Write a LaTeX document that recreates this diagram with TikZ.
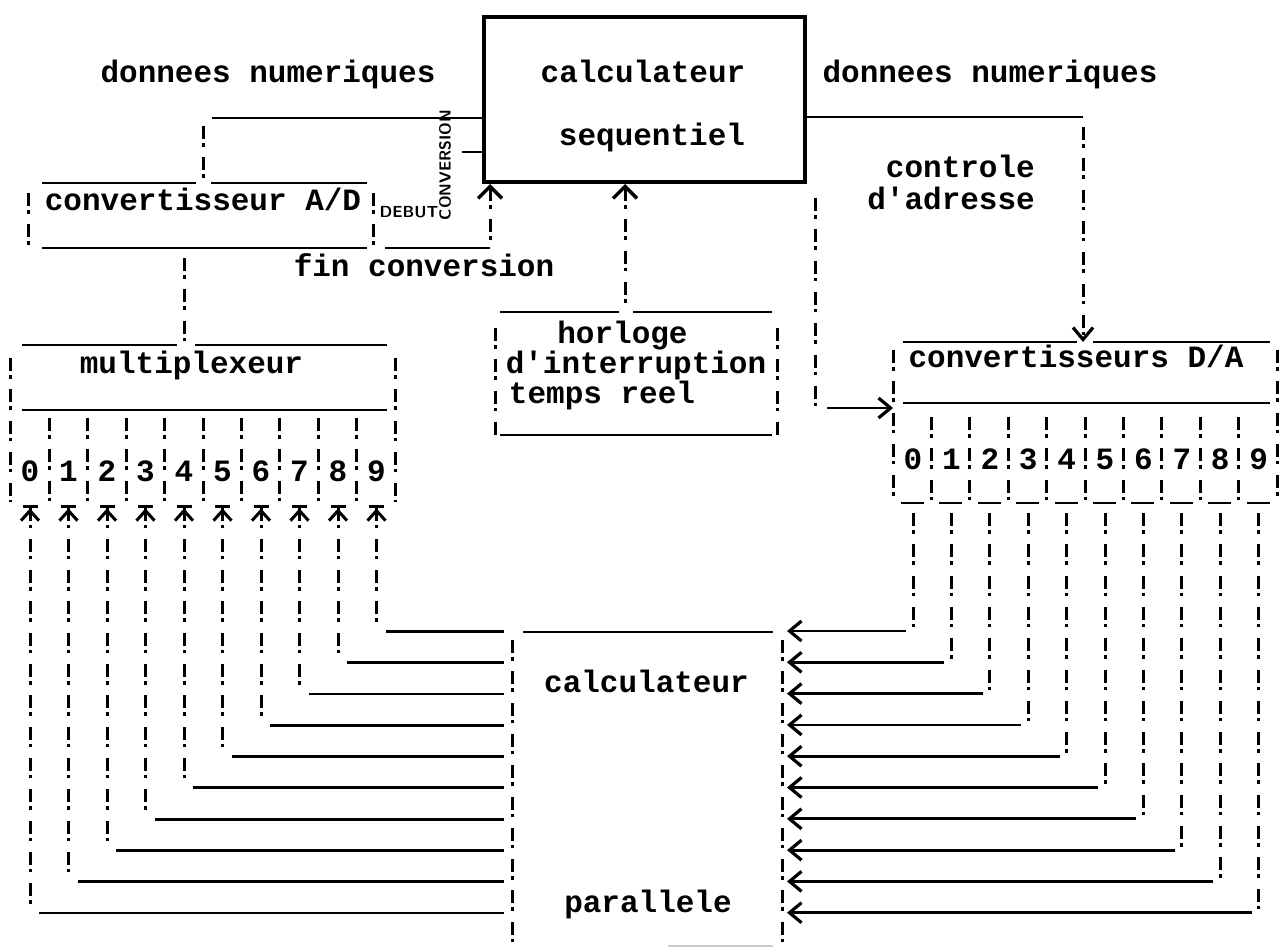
\documentclass[tikz,border=0pt]{standalone}
\usepackage{fontspec}
\setmonofont{Liberation Mono}
\usetikzlibrary{arrows.meta}

\tikzset{
  tw/.style={font=\ttfamily\bfseries\fontsize{31}{36}\selectfont, inner sep=0pt},
  hand/.style={font=\sffamily\bfseries\fontsize{16}{16}\selectfont, inner sep=0pt},
  bang/.style={line width=3pt, dash pattern=on 13pt off 4pt on 3.5pt off 10.8pt},
  rule/.style={line width=2.8pt},
  typed/.style={inner sep=0pt, outer sep=0pt},
  barb/.style={-{Straight Barb[length=12pt,width=20pt,line width=3.2pt]}},
  barbin/.style={{Straight Barb[length=12pt,width=24pt,line width=3.4pt]}-},
  inbar/.style={{Bar[width=15pt,line width=3.4pt]Straight Barb[length=10pt,width=18pt,line width=3pt]}-},
}

\begin{document}
\begin{tikzpicture}[x=1pt,y=-1pt]
	\useasboundingbox (0,0) rectangle (1281,948);
	
	% calculateur sequentiel
	\node[draw, line width=4pt, minimum width=321pt, minimum height=165pt, inner sep=0pt] (seq) at (644.5,99.5) {};
	\node[tw, anchor=base] (seqA) at (643,82) {calculateur};
	\node[tw, anchor=base] (seqB) at (652,145) {sequentiel};
	
	\node[tw, anchor=base] (dnG) at (268,82) {donnees numeriques};
	\node[tw, anchor=base] (dnD) at (990,82) {donnees numeriques};
	
	% convertisseur A/D
	\node[typed, minimum width=345pt, minimum height=65pt] (ad) at (200.5,215.5) {};
	\node[tw, anchor=base] (adT) at (203,210) {convertisseur A/D};
	\draw[rule] (42,183) -- (196,183) (211,183) -- (367,183);
	\draw[rule] (42,248) -- (367,248);
	\draw[bang] (28,193) -- (28,250);
	\draw[bang] (373,193) -- (373,250);
	
	% multiplexeur
	\node[typed, minimum width=385pt, minimum height=160pt] (mux) at (202.5,425) {};
	\node[tw, anchor=base] (muxT) at (191.5,373) {multiplexeur};
	\draw[rule] (22,345) -- (177,345) (195,345) -- (387,345);
	\draw[rule] (22,410) -- (387,410);
	\draw[bang] (10,358) -- (10,502);
	\draw[bang] (395,358) -- (395,502);
	\foreach \k in {1,...,9}
		\draw[bang] ({10.75+38.45*\k},418) -- ++(0,84);
	
	% convertisseurs D/A
	\node[typed, minimum width=384pt, minimum height=161pt] (da) at (1085,422.5) {};
	\node[tw, anchor=base] (daT) at (1076,367) {convertisseurs D/A};
	\draw[rule] (903,342) -- (1077,342) (1093,342) -- (1270,342);
	\draw[rule] (903,403) -- (1270,403);
	\draw[bang] (893,350) -- (893,505);
	\draw[bang] (1277,350) -- (1277,505);
	\foreach \k in {1,...,9}
		\draw[bang] ({893+38.4*\k},417) -- ++(0,88);
	\foreach \k in {0,...,9}
		\draw[rule] ({901+38.4*\k},503) -- ++(23,0);
	
	% horloge d'interruption
	\node[typed, minimum width=278pt, minimum height=123pt] (hor) at (636,373.5) {};
	\node[tw, anchor=base] (horA) at (622.5,343) {horloge};
	\node[tw, anchor=base] (horB) at (636,373) {d'interruption};
	\node[tw, anchor=base] (horC) at (602,403) {temps reel};
	\draw[rule] (500,312) -- (619,312) (633,312) -- (772,312);
	\draw[rule] (500,435) -- (772,435);
	\draw[bang] (495,328) -- (495,437);
	\draw[bang] (777,328) -- (777,437);
	
	% calculateur parallele
	\node[typed, minimum width=270pt, minimum height=316pt] (par) at (647,790) {};
	\node[tw, anchor=base] (parA) at (646.5,692) {calculateur};
	\node[tw, anchor=base] (parB) at (648,912) {parallele};
	\draw[rule] (523,632) -- (773,632);
	\draw[bang] (512,640) -- (512,948);
	\draw[bang] (782,640) -- (782,948);
	\draw[rule, black!20, line width=1.5pt] (668,946) -- (773,946);
	
	% liaisons avec le calculateur sequentiel
	\coordinate (kG) at (203,118);
	\draw[rule] (kG) ++(9,0) -- (kG -| seq.west);
	\draw[bang] (kG) ++(0,8) -- (kG |- ad.north);
	
	\coordinate (kB) at (462,152);
	\draw[rule] (kB) -- (kB -| seq.west);
	\node[hand, rotate=90] (conv) at (445,165) {CONVERSION};
	\node[hand] (deb) at (409,212) {DEBUT};
	
	\coordinate (kF) at (490,248);
	\draw[rule] (385,248) -- (kF);
	\draw[bang, barbin] (kF |- seq.south) -- (kF);
	\node[tw, anchor=base] (finT) at (424,276) {fin conversion};
	
	\coordinate (kH) at (625,312);
	\draw[bang, barbin] (kH |- seq.south) -- (kH);
	
	\coordinate (kD) at (1083,117);
	\draw[rule] (kD -| seq.east) -- (kD);
	\draw[bang, barb] (kD) ++(0,10) -- (kD |- da.north);
	\node[tw, anchor=base east] (ctlA) at (1035,177) {controle};
	\node[tw, anchor=base east] (ctlB) at (1035,209) {d'adresse};
	
	\coordinate (kC) at (815,408);
	\draw[bang] (kC |- seq.south) ++(0,14) -- (kC);
	\draw[rule, barb] (kC) ++(12,0) -- (kC -| da.west);
	
	\coordinate (kM) at (184,300);
	\draw[bang] (kM |- ad.south) ++(0,10) -- (kM |- mux.north);
	
	% voies analogiques vers le multiplexeur
	\foreach \i in {0,...,9}{
		\pgfmathsetmacro\xc{30+38.5*\i}
		\pgfmathsetmacro\yl{913-31.3*\i}
		\coordinate (L\i) at (\xc,\yl);
		\node[tw, anchor=base] (m\i) at (\xc,481) {\i};
		\draw[bang, inbar] (L\i |- mux.south) -- (L\i);
		\draw[rule, shorten >=8pt] (L\i) ++(9,0) -- (L\i -| par.west);
	}
	
	% sorties des convertisseurs D/A
	\foreach \j in {0,...,9}{
		\pgfmathsetmacro\xc{913+38.4*\j}
		\pgfmathsetmacro\yl{631+31.3*\j}
		\coordinate (R\j) at (\xc,\yl);
		\node[tw, anchor=base] (d\j) at (\xc,469) {\j};
		\draw[bang] (R\j |- da.south) ++(0,10) -- (R\j);
		\draw[rule, barb, shorten >=5pt] (R\j) ++(-7,0) -- (R\j -| par.east);
	}
\end{tikzpicture}
\end{document}
